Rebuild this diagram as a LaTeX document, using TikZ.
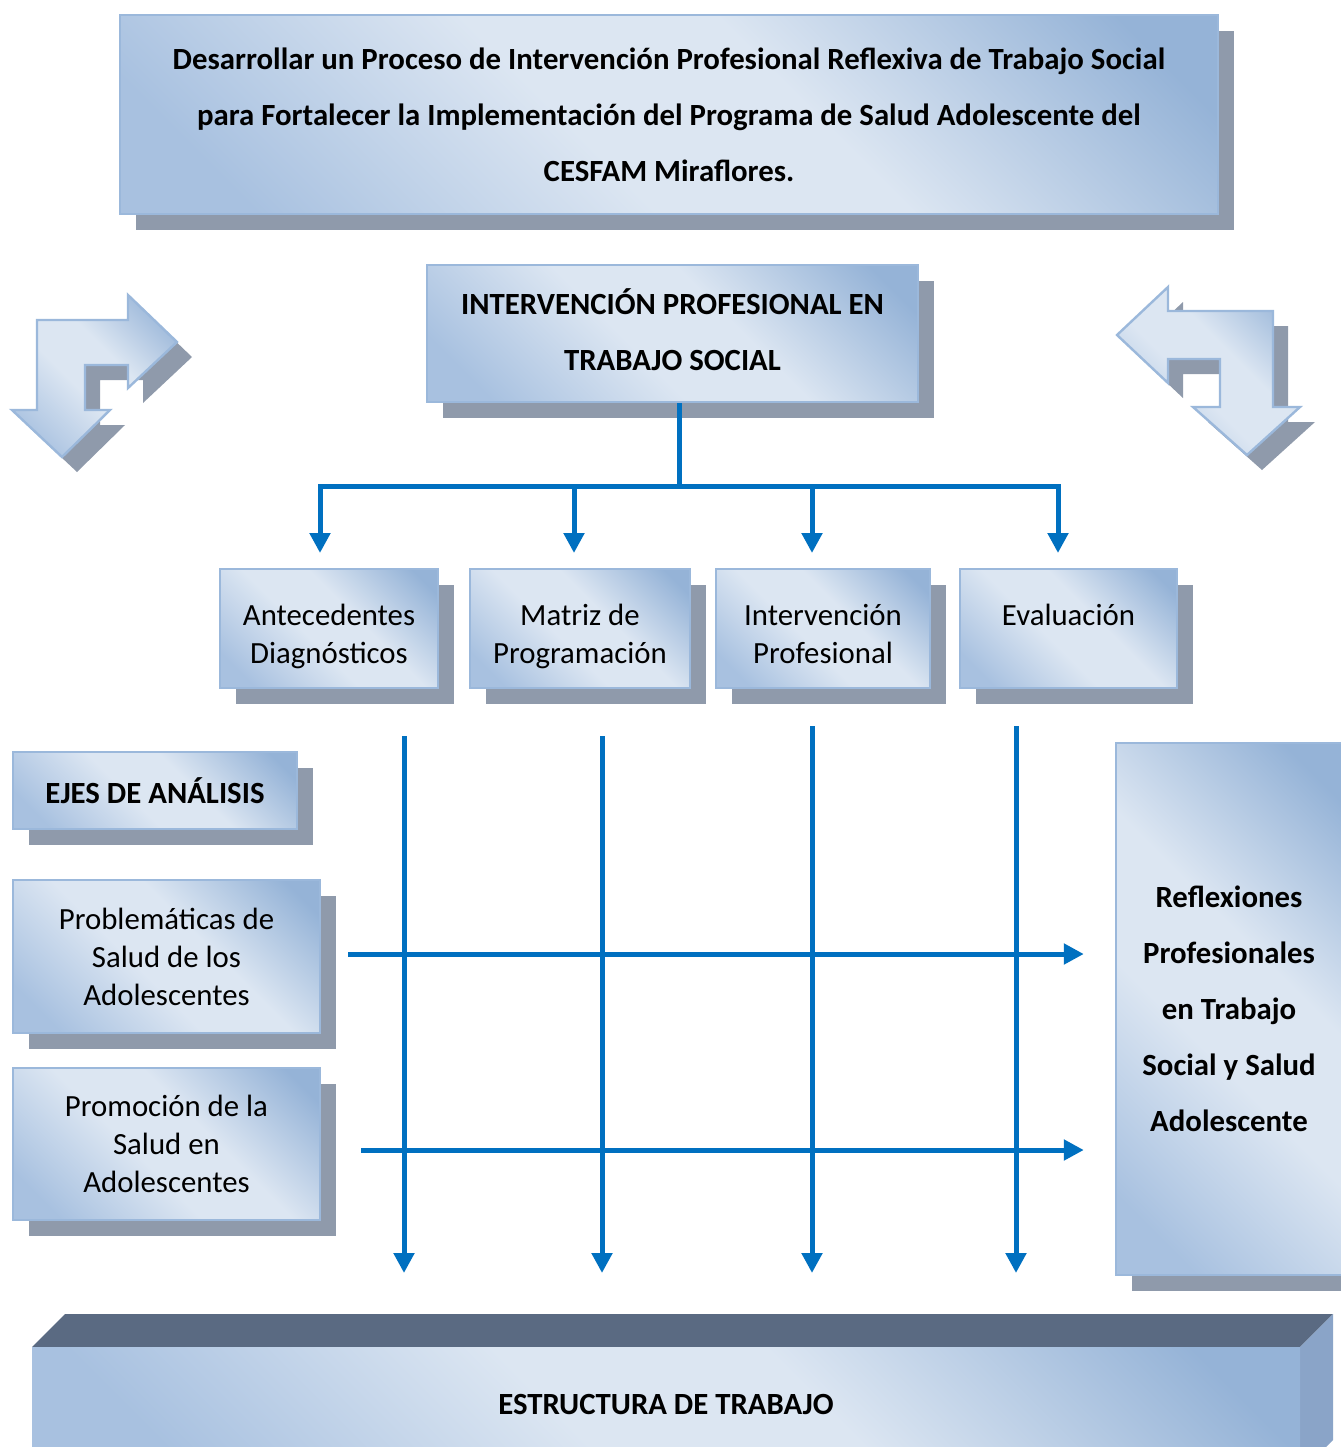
\documentclass[tikz,border=0pt]{standalone}
\usepackage{fontspec}
\setmainfont{Carlito}
\usetikzlibrary{arrows.meta,shadows}
\definecolor{lightfill}{RGB}{220,230,242}
\definecolor{darkfill}{RGB}{149,179,215}
\definecolor{midfill}{RGB}{168,193,224}
\definecolor{framecol}{RGB}{155,184,219}
\definecolor{shadowgray}{RGB}{143,154,171}
\definecolor{linkblue}{RGB}{0,112,192}
\definecolor{topface}{RGB}{90,106,130}
\definecolor{sideface}{RGB}{138,164,200}
\pgfdeclareverticalshading{boxshade}{100bp}{color(0bp)=(midfill); color(22bp)=(midfill);
  color(44bp)=(lightfill); color(58bp)=(lightfill); color(80bp)=(darkfill); color(100bp)=(darkfill)}
\begin{document}
\begin{tikzpicture}
[x=0.5pt,y=-0.5pt,>={Triangle[width=10pt,length=10pt]},
 grad/.style={shading=boxshade,shading angle=-45},
 box/.style={grad,draw=framecol,line width=1.2pt,align=center,inner sep=0pt,
   font=\fontsize{15.4}{19}\selectfont,
   drop shadow={shadow xshift=8pt,shadow yshift=-8pt,fill=shadowgray,opacity=1}},
 boldbox/.style={box,font=\bfseries\fontsize{15.4}{28}\selectfont},
 conn/.style={draw=linkblue,line width=2.5pt},
 bentarrow/.style={grad,draw=framecol,line width=1.2pt,line join=miter},]

\useasboundingbox (0,0) rectangle (1340,1447);

%Title box
\node (goal) at (669,114.5)[boldbox,minimum width=549pt,minimum height=99.5pt]
  {Desarrollar un Proceso de Intervención Profesional Reflexiva de Trabajo Social\\
   para Fortalecer la Implementación del Programa de Salud Adolescente del\\
   CESFAM Miraflores.};

%Corner arrows
\fill[shadowgray,shift={(15,15)}] (37,320) -- (128,320) -- (128,295) -- (177,342) -- (128,388)
  -- (128,365) -- (85,365) -- (85,410) -- (110,410) -- (62,457) -- (12,410) -- (37,410) -- cycle;
\draw[bentarrow] (37,320) -- (128,320) -- (128,295) -- (177,342) -- (128,388)
  -- (128,365) -- (85,365) -- (85,410) -- (110,410) -- (62,457) -- (12,410) -- (37,410) -- cycle;
\fill[shadowgray,shift={(15,15)}] (1117,335) -- (1168,287) -- (1168,311) -- (1273,311) -- (1273,407)
  -- (1300,407) -- (1247,455) -- (1193,407) -- (1220,407) -- (1220,359) -- (1168,359) -- (1168,383) -- cycle;
\draw[bentarrow] (1117,335) -- (1168,287) -- (1168,311) -- (1273,311) -- (1273,407)
  -- (1300,407) -- (1247,455) -- (1193,407) -- (1220,407) -- (1220,359) -- (1168,359) -- (1168,383) -- cycle;

%Main box and stages
\node (inter) at (672.5,333.5)[boldbox,minimum width=245.5pt,minimum height=68.5pt]
  {INTERVENCIÓN PROFESIONAL EN\\TRABAJO SOCIAL\rule[-4pt]{0pt}{4pt}};
\node (ante) at (329,628.5)[box,minimum width=109pt,minimum height=59.5pt]
  {\rule{0pt}{18.5pt}Antecedentes\\Diagnósticos};
\node (matr) at (580,628.5)[box,minimum width=110pt,minimum height=59.5pt]
  {\rule{0pt}{18.5pt}Matriz de\\Programación};
\node (prof) at (823,628.5)[box,minimum width=107pt,minimum height=59.5pt]
  {\rule{0pt}{18.5pt}Intervención\\Profesional\vphantom{g}};
\node (eval) at (1068.5,628.5)[box,minimum width=108.5pt,minimum height=59.5pt]
  {\rule{0pt}{18.5pt}Evaluación\\\phantom{Pg}};

%Axes and result
\node (ejes) at (155,790.5)[boldbox,minimum width=142pt,minimum height=38.5pt] {EJES DE ANÁLISIS};
\node (prob) at (166.5,956.5)[box,minimum width=153.5pt,minimum height=76.5pt]
  {Problemáticas de\\Salud de los\\Adolescentes};
\node (prom) at (166.5,1144)[box,minimum width=153.5pt,minimum height=76pt]
  {Promoción de la\\Salud en\\Adolescentes};
\node (refl) at (1229,1009)[boldbox,minimum width=113pt,minimum height=266pt]
  {Reflexiones\\Profesionales\\en Trabajo\\Social y Salud\\Adolescente};

%Branching connectors
\coordinate (hub) at (679,486);
\coordinate (t1) at (320,553);
\coordinate (t2) at (574,553);
\coordinate (t3) at (812,553);
\coordinate (t4) at (1058,553);
\draw[conn] (inter.south -| hub) -- (hub);
\draw[conn,->] (hub) -| (t1);
\draw[conn,->] (hub) -| (t2);
\draw[conn,->] (hub) -| (t3);
\draw[conn,->] (hub) -| (t4);

%Vertical lines
\coordinate (v1) at (404,736);
\coordinate (v2) at (602,736);
\coordinate (v3) at (812,726);
\coordinate (v4) at (1016,726);
\coordinate (w1) at (404,1273);
\coordinate (w2) at (602,1273);
\coordinate (w3) at (812,1273);
\coordinate (w4) at (1016,1273);
\draw[conn,->] (v1) -- (w1);
\draw[conn,->] (v2) -- (w2);
\draw[conn,->] (v3) -- (w3);
\draw[conn,->] (v4) -- (w4);

%Horizontal arrows
\draw[conn,->,shorten <=13.5pt,shorten >=15.5pt] ([yshift=1.25pt]prob.east) -- ([yshift=1.25pt]prob.east -| refl.west);
\draw[conn,->,shorten <=20pt,shorten >=15.5pt] ([yshift=-3pt]prom.east) -- ([yshift=-3pt]prom.east -| refl.west);

%Bottom block
\fill[topface] (32,1347) -- (65,1314) -- (1333,1314) -- (1300,1347) -- cycle;
\fill[sideface] (1300,1347) -- (1333,1314) -- (1333,1440) -- (1300,1473) -- cycle;
\node (estr) at (666,1404)[grad,minimum width=634pt,minimum height=57pt,inner sep=0pt,
  font=\bfseries\fontsize{15.4}{19}\selectfont] {ESTRUCTURA DE TRABAJO};

\end{tikzpicture}
\end{document}
